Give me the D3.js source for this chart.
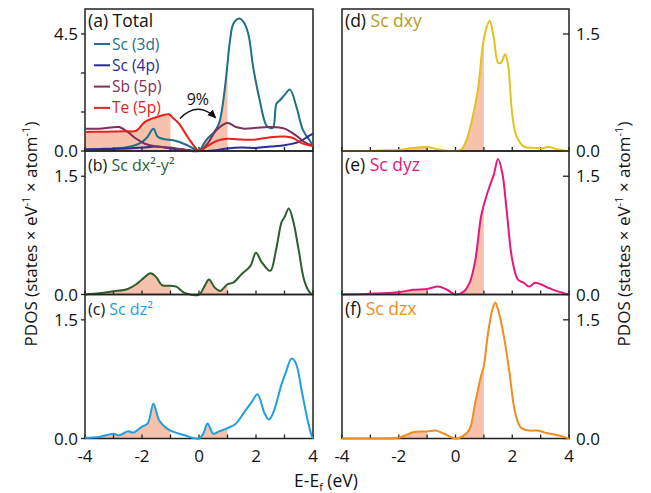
<!DOCTYPE html>
<html><head><meta charset="utf-8">
<script src="https://cdn.jsdelivr.net/npm/d3@7"></script>
<style>body{margin:0;background:#fff} svg text{font-family:"Open Sans",sans-serif}</style>
</head><body><svg id="c" width="651" height="493"></svg>
<script>
// ---------- data ----------
const xTicks = [-4,-3,-2,-1,0,1,2,3,4];
const xTickLabels = [-4,-2,0,2,4];
const yTicksTotal = [0,1.5,3,4.5];
const yLabelsTotal = [0,4.5];
const yTicksOrb = [0,1.5];
const yLabelsOrb = [0,1.5];

const sc3d = [[-4,0.06],[-3.5,0.08],[-3,0.1],[-2.65,0.13],[-2.3,0.2],[-2.07,0.3],[-1.83,0.51],[-1.6,0.86],[-1.45,0.55],[-1.2,0.45],[-0.9,0.41],[-0.43,0.23],[-0.2,0.1],[0,0],[0.15,0.25],[0.29,0.47],[0.53,0.73],[0.7,1.05],[0.82,1.69],[0.94,2.72],[1.0,3.36],[1.09,4.26],[1.21,4.9],[1.41,5.09],[1.55,4.98],[1.73,4.5],[1.9,3.23],[2.13,1.95],[2.36,0.99],[2.5,0.88],[2.6,0.9],[2.72,1.82],[2.84,1.95],[3.0,2.15],[3.19,2.36],[3.42,1.69],[3.65,0.8],[3.88,0.41],[4,0.2]];
const sc4p = [[-4,0.06],[-3.5,0.07],[-3,0.08],[-2.5,0.1],[-2,0.13],[-1.5,0.17],[-1,0.1],[-0.5,0.05],[0,0],[0.5,0.02],[1,0.1],[1.5,0.13],[2,0.12],[2.5,0.17],[3,0.22],[3.5,0.35],[3.8,0.54],[4,0.67]];
const sb5p = [[-4,0.86],[-3.5,0.86],[-3.1,0.9],[-2.8,0.92],[-2.5,0.73],[-2.2,0.47],[-1.9,0.28],[-1.5,0.17],[-1,0.13],[-0.5,0.05],[0,0],[0.3,0.28],[0.6,0.79],[1.0,1.08],[1.3,0.92],[1.6,0.86],[2.0,0.89],[2.5,0.92],[3.0,0.86],[3.4,0.6],[3.7,0.34],[4,0.2]];
const te5p = [[-4,0.73],[-3.5,0.74],[-3,0.75],[-2.6,0.76],[-2.2,0.78],[-1.9,1.12],[-1.5,1.3],[-1.05,1.41],[-0.94,1.3],[-0.7,1.05],[-0.4,0.54],[-0.1,0.09],[0,0],[0.3,0.19],[0.6,0.38],[1.0,0.47],[1.5,0.44],[2.0,0.44],[2.5,0.53],[3.0,0.56],[3.3,0.5],[3.6,0.3],[4,0.19]];
const dx2y2 = [[-4,0],[-3.5,0.015],[-3,0.04],[-2.5,0.07],[-2.2,0.13],[-2.0,0.19],[-1.7,0.27],[-1.5,0.22],[-1.3,0.12],[-1.0,0.11],[-0.8,0.1],[-0.5,0.02],[0,0],[0.2,0.11],[0.35,0.19],[0.55,0.09],[0.75,0.045],[1.0,0.13],[1.2,0.15],[1.5,0.26],[1.8,0.36],[2.0,0.53],[2.2,0.41],[2.5,0.3],[2.7,0.56],[2.9,0.92],[3.0,0.98],[3.15,1.09],[3.3,0.94],[3.5,0.56],[3.7,0.17],[3.9,0.02],[4,0]];
const dz2 = [[-4,0.01],[-3.5,0.02],[-3,0.06],[-2.8,0.04],[-2.5,0.09],[-2.3,0.075],[-2.0,0.15],[-1.8,0.19],[-1.6,0.44],[-1.4,0.23],[-1.2,0.15],[-1.0,0.1],[-0.5,0.04],[0,0],[0.15,0.06],[0.3,0.19],[0.5,0.06],[0.7,0.09],[1.0,0.13],[1.3,0.19],[1.6,0.34],[1.85,0.46],[2.05,0.56],[2.3,0.32],[2.45,0.24],[2.6,0.32],[2.9,0.69],[3.05,0.84],[3.25,1.01],[3.4,0.95],[3.6,0.61],[3.8,0.25],[3.95,0.04],[4,0]];
const dxy = [[-4,0],[-3,0],[-2.5,0.01],[-2,0.013],[-1.5,0.04],[-1.0,0.05],[-0.6,0.02],[-0.1,0],[0.2,0.02],[0.4,0.15],[0.6,0.43],[0.8,0.81],[0.95,1.32],[1.05,1.52],[1.2,1.67],[1.35,1.45],[1.5,1.13],[1.6,1.13],[1.75,1.24],[1.85,1.11],[2.0,0.47],[2.15,0.19],[2.4,0.06],[2.8,0.04],[3.0,0.035],[3.3,0.05],[3.6,0.02],[4,0]];
const dyz = [[-4,0],[-3,0.01],[-2,0.03],[-1.5,0.06],[-1.0,0.07],[-0.6,0.1],[-0.3,0.06],[0,0],[0.3,0.04],[0.5,0.15],[0.7,0.44],[0.9,0.99],[1.05,1.2],[1.2,1.37],[1.35,1.52],[1.5,1.72],[1.65,1.54],[1.8,1.08],[2.0,0.44],[2.2,0.19],[2.4,0.15],[2.6,0.1],[2.8,0.15],[3.0,0.13],[3.3,0.08],[3.6,0.04],[4,0]];
const dzx = [[-4,0],[-3,0],[-2,0.01],[-1.7,0.05],[-1.5,0.08],[-1.0,0.09],[-0.7,0.1],[-0.4,0.06],[0,0],[0.3,0.04],[0.5,0.12],[0.7,0.46],[0.9,0.79],[1.0,0.92],[1.15,1.34],[1.3,1.63],[1.4,1.72],[1.5,1.63],[1.7,1.3],[1.9,0.84],[2.1,0.33],[2.3,0.14],[2.6,0.1],[2.9,0.1],[3.2,0.07],[3.6,0.04],[4,0]];

const legendNames = ["Sc (3d)","Sc (4p)","Sb (5p)","Te (5p)"];
const occRanges = [[-4,-1],[0,1]];
const arrowPts = [[-0.67,1.25],[-0.05,1.95],[0.585,1.28]];
const arrowText = "9%";

// ---------- layout ----------
const svg = d3.select("#c");
const FILL = "#f6c2ad";
const cols = [[85,313],[342,569]];
const rows = [[9,151],[151,294.5],[294.5,438.5]];

const panels = [
  {tag:"(a)", name:" Total", nameColor:"#111", col:0,row:0, ymax:5.46, yt:yTicksTotal, yl:yLabelsTotal,
   lines:[{d:sc3d,c:"#1f6f8b"},{d:sc4p,c:"#2a2a9b"},{d:sb5p,c:"#7d3058"},{d:te5p,c:"#e8211d"}],
   fills:[{d:te5p,r:[occRanges[0]]},{d:sc3d,r:[occRanges[1]]}], legend:true},
  {tag:"(b)", name:" Sc dx²-y²", nameColor:"#2d5e2e", col:0,row:1, ymax:1.82, yt:yTicksOrb, yl:yLabelsOrb,
   lines:[{d:dx2y2,c:"#2d5e2e"}], fills:[{d:dx2y2,r:occRanges}], small:true},
  {tag:"(c)", name:" Sc dz²", nameColor:"#1e9fe0", col:0,row:2, ymax:1.82, yt:yTicksOrb, yl:yLabelsOrb,
   lines:[{d:dz2,c:"#1e9fe0"}], fills:[{d:dz2,r:occRanges}], small:true, bottom:true},
  {tag:"(d)", name:" Sc dxy", nameColor:"#b39c26", col:1,row:0, ymax:1.82, yt:yTicksOrb, yl:yLabelsOrb,
   lines:[{d:dxy,c:"#e3c21a"}], fills:[{d:dxy,r:occRanges}]},
  {tag:"(e)", name:" Sc dyz", nameColor:"#e8177c", col:1,row:1, ymax:1.82, yt:yTicksOrb, yl:yLabelsOrb,
   lines:[{d:dyz,c:"#e8177c"}], fills:[{d:dyz,r:occRanges}]},
  {tag:"(f)", name:" Sc dzx", nameColor:"#f28c1c", col:1,row:2, ymax:1.82, yt:yTicksOrb, yl:yLabelsOrb,
   lines:[{d:dzx,c:"#f28c1c"}], fills:[{d:dzx,r:occRanges}], bottom:true},
];

const defs = svg.append("defs");
defs.append("marker").attr("id","ah").attr("viewBox","0 0 10 10").attr("refX",8).attr("refY",5)
  .attr("markerWidth",7).attr("markerHeight",7).attr("orient","auto")
  .append("path").attr("d","M0,1 L9,5 L0,9 z").attr("fill","#111");

panels.forEach((p,i)=>{
  const [x0,x1] = cols[p.col], [y0,y1] = rows[p.row];
  const x = d3.scaleLinear().domain([-4,4]).range([x0,x1]);
  const y = d3.scaleLinear().domain([0,p.ymax]).range([y1,y0]);
  const g = svg.append("g");
  const line = d3.line().x(d=>x(d[0])).y(d=>y(d[1])).curve(d3.curveCatmullRom.alpha(0.5));
  const area = d3.area().x(d=>x(d[0])).y0(y(0)).y1(d=>y(d[1])).curve(d3.curveCatmullRom.alpha(0.5));

  p.fills.forEach((f,j)=>{
    const id = "clip"+i+"_"+j;
    const cp = defs.append("clipPath").attr("id",id);
    f.r.forEach(r=>cp.append("rect").attr("x",x(r[0])).attr("width",x(r[1])-x(r[0])).attr("y",y0).attr("height",y1-y0));
    g.append("path").attr("d",area(f.d)).attr("fill",FILL).attr("clip-path",`url(#${id})`);
  });

  g.append("rect").attr("x",x0).attr("y",y0).attr("width",x1-x0).attr("height",y1-y0)
    .attr("fill","none").attr("stroke","#222").attr("stroke-width",1.5);

  g.selectAll(".xt").data(xTicks).enter().append("line")
    .attr("x1",d=>x(d)).attr("x2",d=>x(d)).attr("y1",y1).attr("y2",y1-4)
    .attr("stroke","#222").attr("stroke-width",1.3);

  const left = p.col===0;
  const ax = left ? x0 : x1;
  g.selectAll(".yt").data(p.yt).enter().append("line")
    .attr("x1",ax).attr("x2",left?ax-4:ax-6).attr("y1",d=>y(d)).attr("y2",d=>y(d))
    .attr("stroke","#222").attr("stroke-width",1.3);
  g.selectAll(".yl").data(p.yl).enter().append("text")
    .attr("x",left?ax-7:ax+7).attr("y",d=>y(d)).attr("dy","0.36em")
    .attr("text-anchor",left?"end":"start").attr("font-size",17).attr("fill","#111")
    .text(d=>d3.format(".1f")(d));

  p.lines.forEach(l=>{
    g.append("path").attr("d",line(l.d)).attr("fill","none").attr("stroke",l.c)
      .attr("stroke-width",2).attr("stroke-linejoin","round");
  });

  const lbl = g.append("text").attr("x",x0+3).attr("y",y0+(p.row===0?18:20))
    .attr("font-size",p.small?16:17.5);
  lbl.append("tspan").attr("fill","#111").text(p.tag);
  lbl.append("tspan").attr("fill",p.nameColor).text(p.name);

  if(p.bottom){
    g.selectAll(".xl").data(xTickLabels).enter().append("text")
      .attr("x",d=>x(d)).attr("y",y1+23).attr("text-anchor","middle")
      .attr("font-size",17).attr("fill","#111").text(d=>d);
  }

  if(p.legend){
    p.lines.forEach((l,k)=>{
      const ly = 44 + k*21.3;
      g.append("line").attr("x1",x0+9).attr("x2",x0+25).attr("y1",ly).attr("y2",ly)
        .attr("stroke",l.c).attr("stroke-width",2);
      g.append("text").attr("x",x0+27).attr("y",ly).attr("dy","0.36em")
        .attr("font-size",15.5).attr("fill",l.c).text(legendNames[k]);
    });
    const a = arrowPts.map(d=>[x(d[0]),y(d[1])]);
    g.append("path").attr("d",`M${a[0][0]},${a[0][1]} Q${a[1][0]},${a[1][1]} ${a[2][0]},${a[2][1]}`)
      .attr("fill","none").attr("stroke","#111").attr("stroke-width",1.4).attr("marker-end","url(#ah)");
    g.append("text").attr("x",x(-0.04)).attr("y",y(1.75)).attr("text-anchor","middle")
      .attr("font-size",16).attr("fill","#111").text(arrowText);
  }
});

function yTitle(tx){
  const t = svg.append("text").attr("transform",`translate(${tx},234) rotate(-90)`)
    .attr("text-anchor","middle").attr("font-size",17).attr("fill","#111");
  t.append("tspan").text("PDOS (states × eV");
  t.append("tspan").attr("dy",-7).attr("font-size",11).text("-1");
  t.append("tspan").attr("dy",7).text(" × atom");
  t.append("tspan").attr("dy",-7).attr("font-size",11).text("-1");
  t.append("tspan").attr("dy",7).text(")");
}
yTitle(37); yTitle(630);

const xt = svg.append("text").attr("x",326).attr("y",487).attr("text-anchor","middle")
  .attr("font-size",17.5).attr("fill","#111");
xt.append("tspan").text("E-E");
xt.append("tspan").attr("dy",4).attr("font-size",11).text("f");
xt.append("tspan").attr("dy",-4).text(" (eV)");
</script></body></html>
